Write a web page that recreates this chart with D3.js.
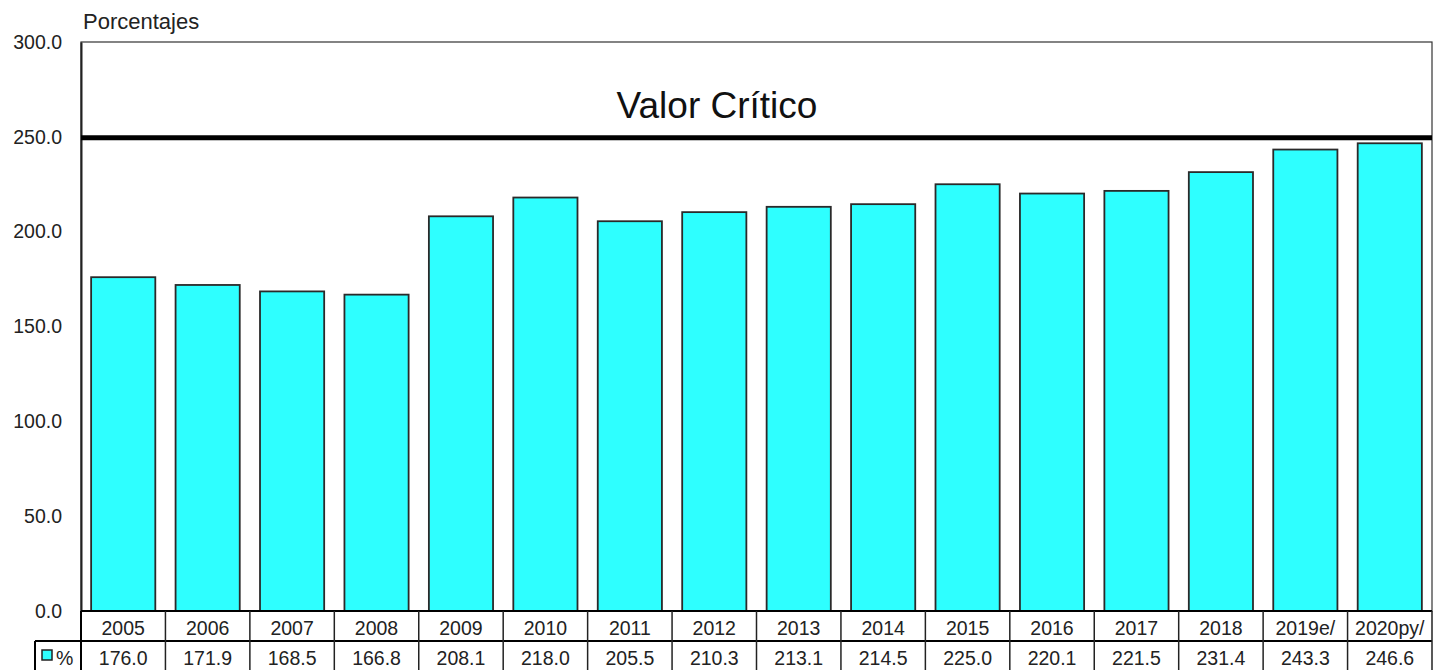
<!DOCTYPE html>
<html>
<head>
<meta charset="utf-8">
<script src="https://cdn.jsdelivr.net/npm/d3@7.9.0/dist/d3.min.js"></script>
<style>
  body { margin: 0; background: #fff; }
  svg { display: block; font-family: "Liberation Sans", Arial, sans-serif; }
</style>
</head>
<body>
<div id="chart"></div>
<script>
const years = ['2005', '2006', '2007', '2008', '2009', '2010', '2011', '2012',
  '2013', '2014', '2015', '2016', '2017', '2018', '2019e/', '2020py/'];
const values = [176.0, 171.9, 168.5, 166.8, 208.1, 218.0, 205.5, 210.3,
  213.1, 214.5, 225.0, 220.1, 221.5, 231.4, 243.3, 246.6];
const yTicks = [0, 50, 100, 150, 200, 250, 300];
const criticalValue = 250;
const criticalLabel = 'Valor Crítico';
const seriesLabel = '%';
const unitLabel = 'Porcentajes';

const width = 1435;
const height = 670;
const margin = { top: 42, right: 3, bottom: 59, left: 81 };
const plot = {
  left: margin.left,
  right: width - margin.right,
  top: margin.top,
  bottom: height - margin.bottom,
};
const labelSize = 19.5;

const svg = d3.select('#chart').append('svg')
  .attr('width', width)
  .attr('height', height);

const x = d3.scaleBand()
  .domain(years)
  .range([plot.left, plot.right])
  .paddingInner(0.24)
  .paddingOuter(0.12);

const xCell = d3.scaleBand()
  .domain(years)
  .range([plot.left, plot.right]);

const y = d3.scaleLinear()
  .domain([0, 300])
  .range([plot.bottom, plot.top]);

// plot frame
svg.append('rect')
  .attr('x', plot.left)
  .attr('y', plot.top)
  .attr('width', plot.right - plot.left)
  .attr('height', plot.bottom - plot.top)
  .attr('fill', 'none')
  .attr('stroke', '#333')
  .attr('stroke-width', 1.2);

// y axis labels
svg.append('g')
  .attr('transform', `translate(${plot.left}, 0)`)
  .call(d3.axisLeft(y).tickValues(yTicks).tickSize(0).tickPadding(19)
    .tickFormat(d3.format('.1f')))
  .call((g) => g.select('.domain').attr('stroke', '#222').attr('stroke-width', 2))
  .call((g) => g.selectAll('text')
    .attr('font-size', labelSize)
    .attr('fill', '#222')
    .attr('font-family', '"Liberation Sans", Arial, sans-serif'));

svg.append('text')
  .attr('x', 83)
  .attr('y', 29)
  .attr('font-size', 22)
  .attr('fill', '#222')
  .text(unitLabel);

// bars
svg.append('g')
  .selectAll('rect')
  .data(values)
  .join('rect')
  .attr('x', (d, i) => x(years[i]))
  .attr('y', (d) => y(d))
  .attr('width', x.bandwidth())
  .attr('height', (d) => y(0) - y(d))
  .attr('fill', '#2effff')
  .attr('stroke', '#2a2a2a')
  .attr('stroke-width', 1.8);

// critical line
svg.append('line')
  .attr('x1', plot.left)
  .attr('x2', plot.right)
  .attr('y1', y(criticalValue) + 1)
  .attr('y2', y(criticalValue) + 1)
  .attr('stroke', '#000')
  .attr('stroke-width', 5);

svg.append('text')
  .attr('x', 717)
  .attr('y', 118)
  .attr('text-anchor', 'middle')
  .attr('font-size', 37)
  .attr('fill', '#111')
  .text(criticalLabel);

// data table
const row1Top = plot.bottom;
const row1Bottom = 641;
const row2Bottom = 672;
const legendLeft = 35;

const table = svg.append('g');

table.append('line')
  .attr('x1', plot.left).attr('x2', plot.right)
  .attr('y1', row1Top).attr('y2', row1Top)
  .attr('stroke', '#000').attr('stroke-width', 2);

table.append('line')
  .attr('x1', legendLeft).attr('x2', plot.right)
  .attr('y1', row1Bottom).attr('y2', row1Bottom)
  .attr('stroke', '#000').attr('stroke-width', 2);

table.append('g')
  .selectAll('line')
  .data(years)
  .join('line')
  .attr('x1', (d) => xCell(d) + xCell.bandwidth())
  .attr('x2', (d) => xCell(d) + xCell.bandwidth())
  .attr('y1', row1Top)
  .attr('y2', row2Bottom)
  .attr('stroke', '#222')
  .attr('stroke-width', 1.5);

table.append('line')
  .attr('x1', plot.left).attr('x2', plot.left)
  .attr('y1', row1Top).attr('y2', row2Bottom)
  .attr('stroke', '#000').attr('stroke-width', 2);

table.append('line')
  .attr('x1', legendLeft).attr('x2', legendLeft)
  .attr('y1', row1Bottom).attr('y2', row2Bottom)
  .attr('stroke', '#000').attr('stroke-width', 2);

table.append('g')
  .selectAll('text')
  .data(years)
  .join('text')
  .attr('x', (d) => xCell(d) + xCell.bandwidth() / 2)
  .attr('y', row1Top + 24)
  .attr('text-anchor', 'middle')
  .attr('font-size', labelSize)
  .attr('fill', '#222')
  .text((d) => d);

table.append('g')
  .selectAll('text')
  .data(values)
  .join('text')
  .attr('x', (d, i) => xCell(years[i]) + xCell.bandwidth() / 2)
  .attr('y', row1Bottom + 24)
  .attr('text-anchor', 'middle')
  .attr('font-size', labelSize)
  .attr('fill', '#222')
  .text((d) => d3.format('.1f')(d));

// legend key
table.append('rect')
  .attr('x', 42)
  .attr('y', 650)
  .attr('width', 10)
  .attr('height', 10)
  .attr('fill', '#2effff')
  .attr('stroke', '#222')
  .attr('stroke-width', 1.5);

table.append('text')
  .attr('x', 56)
  .attr('y', row1Bottom + 24)
  .attr('font-size', labelSize)
  .attr('fill', '#222')
  .text(seriesLabel);
</script>
</body>
</html>
